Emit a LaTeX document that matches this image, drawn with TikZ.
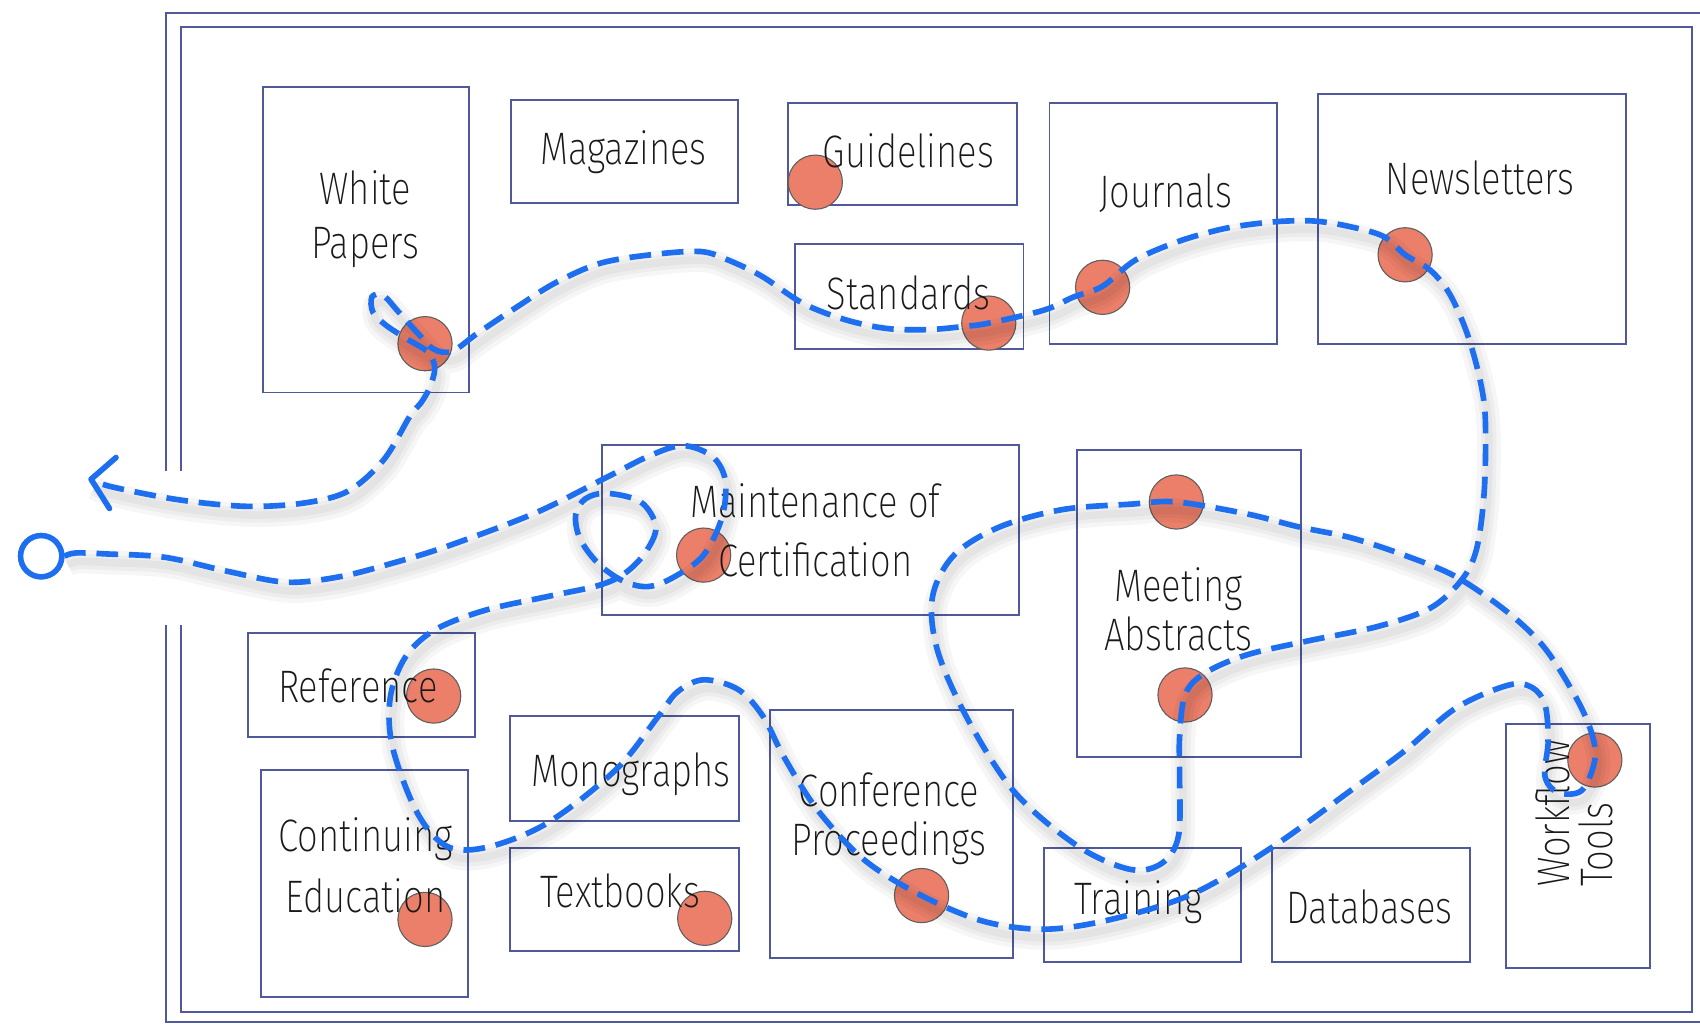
\documentclass[tikz,border=0pt]{standalone}
\usepackage{fontspec}
\setmainfont{Fira Sans ExtraLight}[FakeStretch=0.8]
\usetikzlibrary{arrows.meta}
\definecolor{routec}{RGB}{30,110,240}
\definecolor{boxc}{RGB}{62,72,145}
\definecolor{dotc}{RGB}{236,127,106}
\definecolor{dotb}{RGB}{95,95,95}
\definecolor{txtc}{RGB}{25,25,25}
\begin{document}
\begin{tikzpicture}[x=1pt,y=-1pt,
  box/.style={draw=boxc,line width=1.8pt,opacity=0.9},
  frameline/.style={draw=boxc,line width=1.8pt,opacity=0.9},
  dot/.style={circle,minimum size=50pt,inner sep=0pt,fill=dotc,draw=dotb,line width=1pt},
  lbl/.style={text=txtc,font=\fontsize{42}{50}\selectfont,align=center,inner sep=0pt},
  route/.style={draw=routec,line width=5.2pt,dash pattern=on 20pt off 10pt},
  arrowhead/.style={draw=routec,line width=5.2pt,line cap=round,line join=round},
  routeshadow/.style={draw=black,line width=#1,opacity=0.035,transform canvas={xshift=3pt,yshift=-8pt}},
  startnode/.style={circle,minimum size=38pt,inner sep=0pt,draw=routec,line width=5pt,fill=white},
]
\useasboundingbox (0,0) rectangle (1568,946);
\fill[white] (0,0) rectangle (1568,946);
\clip (0,0) rectangle (1568,946);

% frame
\draw[frameline] (153,434) -- (153,12) -- (1575,12);
\draw[frameline] (153,576) -- (153,943) -- (1575,943);
\draw[frameline] (167,434) -- (167,25) -- (1561,25) -- (1561,933) -- (167,933) -- (167,576);

% boxes
\draw[box] (243,80) rectangle (433,362);
\draw[box] (471,92) rectangle (681,187);
\draw[box] (727,95) rectangle (938,189);
\draw[box] (733,225) rectangle (944,322);
\draw[box] (968,95) rectangle (1178,317);
\draw[box] (1216,87) rectangle (1500,317);
\draw[box] (555,410) rectangle (940,567);
\draw[box] (993,415) rectangle (1200,698);
\draw[box] (229,584) rectangle (438,680);
\draw[box] (470,660) rectangle (682,757);
\draw[box] (241,710) rectangle (432,920);
\draw[box] (470,782) rectangle (682,877);
\draw[box] (710,655) rectangle (934,884);
\draw[box] (963,782) rectangle (1145,887);
\draw[box] (1173,782) rectangle (1356,887);
\draw[box] (1389,668) rectangle (1522,893);

% dots
\node[dot] (gldot) at (752,168) {};
\node[dot] (wpdot) at (392,317) {};
\node[dot] (stdot) at (912,298) {};
\node[dot] (jodot) at (1017,265) {};
\node[dot] (nldot) at (1296,235) {};
\node[dot] (mcdot) at (649,512) {};
\node[dot] (madota) at (1085,463) {};
\node[dot] (madotb) at (1093,641) {};
\node[dot] (refdot) at (400,642) {};
\node[dot] (cedot) at (392,848) {};
\node[dot] (tbdot) at (650,847) {};
\node[dot] (cpdot) at (850,826) {};
\node[dot] (wfdot) at (1471,701) {};

% labels
\node[lbl] (twp) at (337,202) {White\\Papers};
\node[lbl] (tmag) at (575,140) {Magazines};
\node[lbl] (tgl) at (838,139) {Guidelines};
\node[lbl] (tst) at (838,270) {Standards};
\node[lbl] (tjo) at (1075,178) {Journals};
\node[lbl] (tnl) at (1365,164) {Newsletters};
\node[lbl,font=\fontsize{42}{54}\selectfont] (tmc) at (752,489) {Maintenance of\\Certification};
\node[lbl,font=\fontsize{42}{45}\selectfont] (tma) at (1087,562) {Meeting\\Abstracts};
\node[lbl] (tref) at (330,633) {Reference};
\node[lbl] (tmono) at (582,714) {Monographs};
\node[lbl,font=\fontsize{42}{56}\selectfont] (tce) at (337,798) {Continuing\\Education};
\node[lbl] (ttb) at (572,822) {Textbooks};
\node[lbl,font=\fontsize{42}{45}\selectfont] (tcp) at (820,755) {Conference\\Proceedings};
\node[lbl] (ttr) at (1050,832) {Training};
\node[lbl] (tdb) at (1263,836) {Databases};
\node[lbl,rotate=90,align=left,font=\fontsize{42}{40}\selectfont] (twf) at (1452,750) {Workflow\\Tools};

% route
\node[startnode] (s) at (38,513) {};
\coordinate (e) at (84,442);
\def\routeplot{plot[smooth,tension=0.55] coordinates {(s.east) (70,510) (100,511) (152,514) (210,527) (264,537) (313,532) (360,520) (412,504) (494,473) (560,440) (600,420) (630,411) (657,421) (669,443) (666,477) (649,512) (622,532) (598,541) (575,536) (552,520) (535,497) (531,475) (540,460) (560,455) (591,463) (605,486) (595,510) (576,529) (552,540) (506,550) (447,563) (401,581) (374,606) (360,643) (362,689) (385,750) (413,781) (451,781) (505,759) (568,710) (607,661) (625,638) (649,627) (681,636) (704,661) (723,698) (754,747) (797,793) (850,826) (908,850) (966,857) (1029,847) (1101,824) (1174,781) (1246,729) (1295,693) (1343,653) (1391,632) (1413,634) (1425,650) (1428,683) (1425,716) (1437,731) (1459,729) (1471,701) (1468,676) (1454,644) (1425,598) (1391,565) (1343,532) (1295,512) (1246,496) (1198,486) (1150,474) (1085,463) (1043,465) (980,470) (922,486) (880,512) (860,551) (865,601) (894,666) (937,732) (995,781) (1043,802) (1072,796) (1087,771) (1088,715) (1088,680) (1093,641) (1111,621) (1150,604) (1207,591) (1270,578) (1319,561) (1348,535) (1362,506) (1369,453) (1370,387) (1365,350) (1353,307) (1337,271) (1319,249) (1296,235) (1276,218) (1245,209) (1214,204) (1184,204) (1153,207) (1124,212) (1086,223) (1047,240) (1017,264) (990,274) (963,286) (912,298) (890,301) (856,304) (818,303) (780,295) (741,280) (703,255) (672,240) (646,232) (600,235) (553,243) (512,261) (477,283) (441,307) (417,324) (400,322) (385,307) (367,287) (353,272) (343,274) (344,288) (356,300) (376,313) (395,325) (401,340) (396,358) (388,372) (378,384) (354,424) (321,453) (280,464) (227,467) (165,461) (103,449) (e)}}
\draw[routeshadow=22pt] \routeplot;
\draw[routeshadow=14pt] \routeplot;
\draw[routeshadow=7pt] \routeplot;
\draw[route] \routeplot;
\draw[arrowhead] (e) ++(23,-20) -- (e) -- ++(17,27);
\node[startnode] (s2) at (s) {};
\end{tikzpicture}
\end{document}
